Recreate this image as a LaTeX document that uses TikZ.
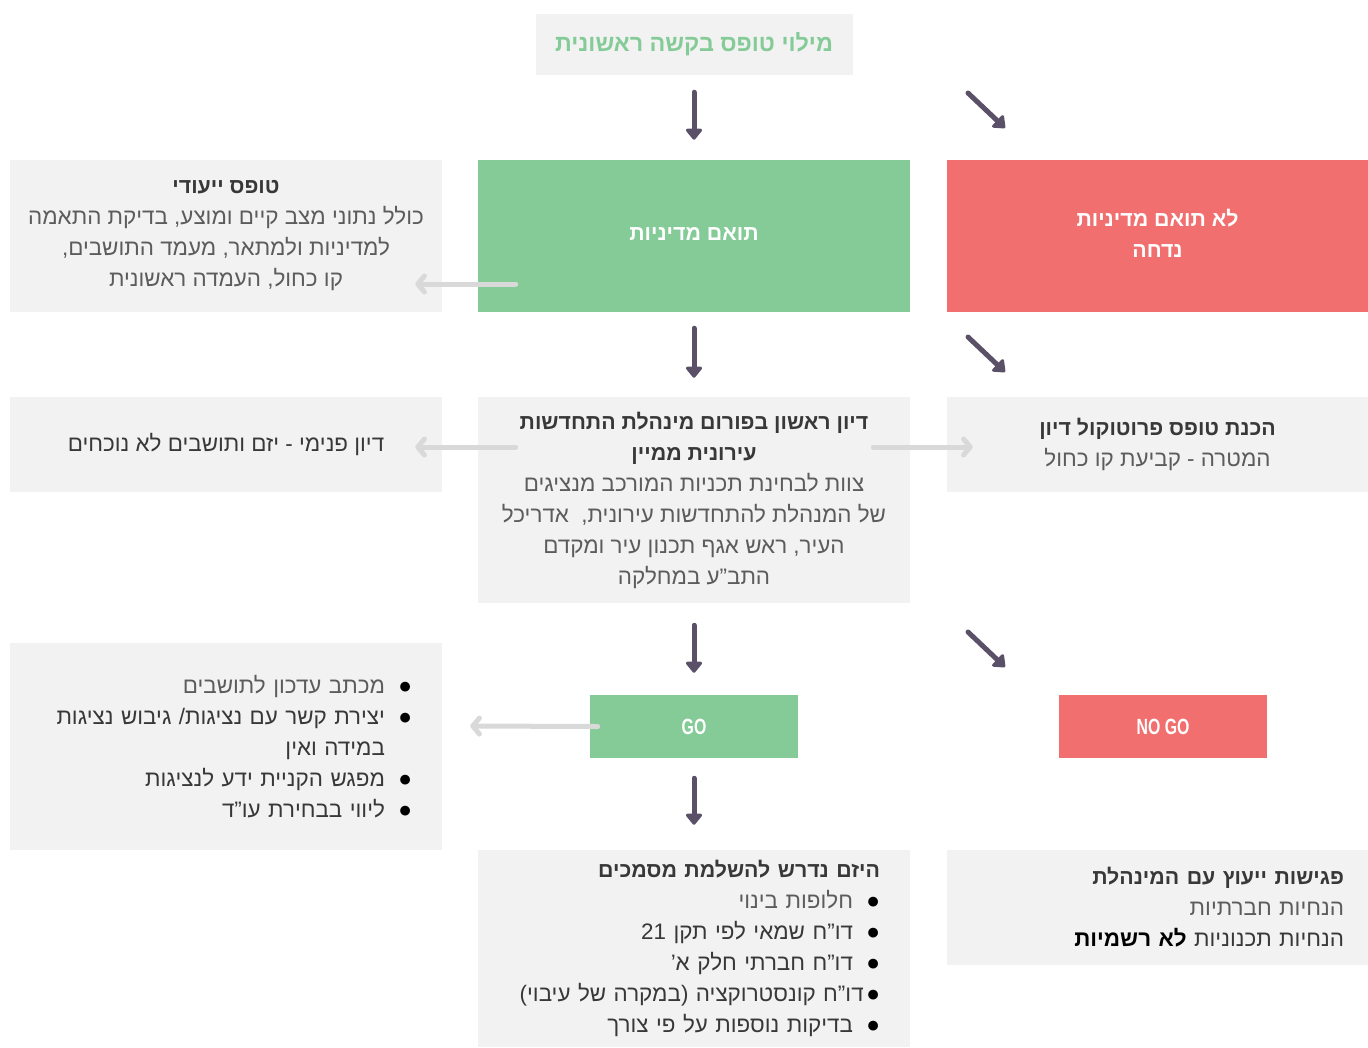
\documentclass[tikz,border=0pt]{standalone}
\usepackage{fontspec}
\setmainfont{Liberation Sans}[Script=Hebrew]
\newfontfamily\condfont{Liberation Sans}[FakeStretch=0.72]
\TeXXeTstate=1
\usetikzlibrary{arrows.meta}

\definecolor{boxgray}{HTML}{F2F2F2}
\definecolor{okgreen}{HTML}{85CB97}
\definecolor{badred}{HTML}{F26F6F}
\definecolor{arrowdark}{HTML}{5A5068}
\definecolor{arrowlight}{HTML}{D9D9D9}
\definecolor{headtext}{HTML}{383838}
\definecolor{bodytext}{HTML}{5C5C5C}

\newcommand{\heb}[1]{\beginR #1\endR}
\newcommand{\hd}[1]{\textcolor{headtext}{\fontsize{16}{23.25}\selectfont\bfseries\heb{#1}}}
\newcommand{\bul}{\textcolor{headtext}{\fontsize{17}{17}\selectfont ●}}
\newcommand{\itm}{\bul\hspace{10pt}}

\begin{document}
\begin{tikzpicture} [
						x=0.75pt, y=-0.75pt,
						every node/.style={inner sep=0pt, font=\fontsize{16.8}{23.25}\selectfont},
						box/.style={rectangle, fill=boxgray, text=bodytext, align=center, minimum width=324pt},
						wide/.style={minimum width=315.75pt},
						okbox/.style={rectangle, fill=okgreen, text=white, align=center, font=\fontsize{16}{23.25}\selectfont\bfseries},
						badbox/.style={rectangle, fill=badred, text=white, align=center, font=\fontsize{16}{23.25}\selectfont\bfseries},
						gofont/.style={font=\condfont\fontsize{16.5}{16.5}\selectfont\bfseries},
						darr/.style={draw=arrowdark, line width=3.75pt, line cap=round, -{Triangle[round, length=9pt, width=14pt]}},
						garr/.style={draw=arrowlight, line width=3.75pt, line cap=round, -{Straight Barb[round, length=5pt, width=12pt]}}
					]

\useasboundingbox (0,0) rectangle (1368,1047);

% first row
\node (req) [box, minimum width=237.75pt, minimum height=45.75pt, text=okgreen, font=\fontsize{17.5}{23.25}\selectfont\bfseries] at (694,44.5) {\heb{מילוי טופס בקשה ראשונית}};
\node (ok) [okbox, minimum width=324pt, minimum height=114pt] at (694,236) {\heb{תואם מדיניות}\vphantom{g}};
\node (no) [badbox, minimum width=315.75pt, minimum height=114pt] at (1157.5,236) {\heb{לא תואם מדיניות}\\\heb{נדחה}\vphantom{g}};
\node (form) [box, minimum height=114pt] at (226,236) {\hd{טופס ייעודי}\\\heb{כולל נתוני מצב קיים ומוצע, בדיקת התאמה}\\\heb{למדיניות ולמתאר, מעמד התושבים,}\\\heb{קו כחול, העמדה ראשונית}};

% forum row
\node (forum) [box, minimum height=154.5pt] at (694,500) {\hd{דיון ראשון בפורום מינהלת התחדשות}\\\hd{עירונית ממיין}\\\heb{צוות לבחינת תכניות המורכב מנציגים}\\\heb{של המנהלת להתחדשות עירונית,\ \ אדריכל}\\\heb{העיר, ראש אגף תכנון עיר ומקדם}\\\heb{התב"ע במחלקה}};
\node (inner) [box, text=headtext, minimum height=71.25pt] at (226,444.5) {\heb{דיון פנימי - יזם ותושבים לא נוכחים}};
\node (proto) [box, wide, minimum height=71.25pt] at (1157.5,444.5) {\hd{הכנת טופס פרוטוקול דיון}\\\heb{המטרה - קביעת קו כחול}};

% decision
\node (go) [okbox, gofont, minimum width=156pt, minimum height=47.25pt] at (694,726.5) {GO};
\node (nogo) [badbox, gofont, minimum width=156pt, minimum height=47.25pt] at (1163,726.5) {NO GO};
\node (steps) [box, minimum height=155.25pt, text width=279pt, align=right] at (226,746.5) {\heb{\itm מכתב עדכון לתושבים}\\\heb{\itm יצירת קשר עם נציגות/ גיבוש נציגות}\\\heb{\phantom{\itm}במידה ואין}\\\heb{\itm מפגש הקניית ידע לנציגות}\\\heb{\itm ליווי בבחירת עו"ד}};

% last row
\node (docs) [box, minimum height=147.75pt, text width=279pt, align=right] at (694,948.5) {\hd{היזם נדרש להשלמת מסמכים}\\\heb{\itm חלופות בינוי}\\\heb{\itm דו"ח שמאי לפי תקן \beginL 21\endL}\\\heb{\itm דו"ח חברתי חלק א'}\\\heb{\bul\hspace{2pt}דו"ח קונסטרוקציה (במקרה של עיבוי)}\\\heb{\itm בדיקות נוספות על פי צורך}};
\node (meet) [box, wide, minimum height=86.25pt, text width=279.75pt, align=right] at (1157.5,907.5) {\hd{פגישות ייעוץ עם המינהלת}\\\heb{הנחיות חברתיות}\\\heb{הנחיות תכנוניות \textcolor{headtext}{\bfseries לא רשמיות}}};

\draw[darr, shorten <=12.75pt, shorten >=15pt] (req) -- (ok);
\draw[darr, shorten <=12pt, shorten >=14.25pt] (ok) -- (forum);
\draw[darr, shorten <=16.5pt, shorten >=16.5pt] (forum) -- (go);
\draw[darr, shorten <=15pt, shorten >=18.75pt] (go) -- (docs);

\foreach \y [count=\i] in {93,337,632} {
	\coordinate (s\i) at (968,\y);
	\coordinate (t\i) at (1005,\y+35);
	\draw[darr] (s\i) -- (t\i);
}

\draw[garr] ([shift={(38,48)}]ok.west) -- ([shift={(-27,48)}]form.east);
\draw[garr] ([shift={(38,-53)}]forum.west) -- ([shift={(-27,2.5)}]inner.east);
\draw[garr] ([shift={(-37,-53)}]forum.east) -- ([shift={(26,2.5)}]proto.west);
\draw[garr] ([shift={(8,0)}]go.west) -- ([shift={(28,-20.5)}]steps.east);
\end{tikzpicture}
\end{document}
